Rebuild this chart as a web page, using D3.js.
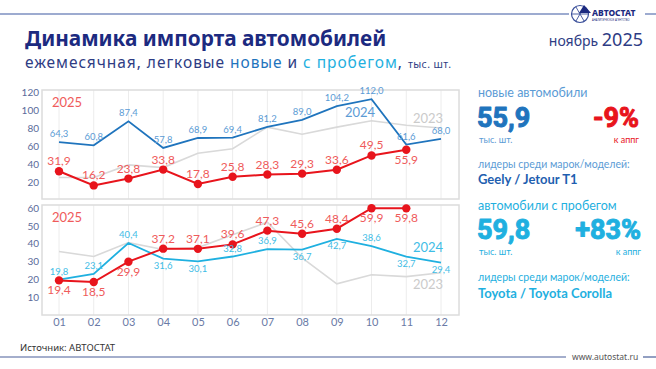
<!DOCTYPE html>
<html><head><meta charset="utf-8">
<script src="https://cdn.jsdelivr.net/npm/d3@7"></script>
<style>body{margin:0;background:#fff}svg{display:block}</style>
</head><body>
<script>
const months = ["01","02","03","04","05","06","07","08","09","10","11","12"];
const new2025 = [31.9,16.2,23.8,33.8,17.8,25.8,28.3,29.3,33.6,49.5,55.9];
const new2024 = [64.3,60.8,87.4,57.8,68.9,69.4,81.2,89.0,104.2,112.0,61.6,68.0];
const new2023 = [25,25,39,36,52,57,81,73,81,88,83,80];
const used2025 = [19.4,18.5,29.9,37.2,37.1,39.6,47.3,45.6,48.4,59.9,59.8];
const used2024 = [19.8,23.1,40.4,31.6,30.1,32.8,36.9,36.7,42.7,38.6,32.7,29.4];
const used2023 = [35.6,32.8,40.6,36.7,37.8,45,52,32,17.5,22.6,21.5,23.7];
const topTicks = [20,40,60,80,100,120];
const bottomTicks = [10,20,30,40,50,60];

const W=656,H=369;
const F="'Lato','Open Sans',sans-serif";
const svg=d3.select("body").append("svg").attr("width",W).attr("height",H);
const fmt=v=>d3.format(".1f")(v).replace(".",",");

const C={navy:"#1c2a80",blue:"#1f74bd",blueL:"#5b9bd5",cyan:"#1fb0e0",cyanL:"#3fbde6",red:"#e8141c",redL:"#ef5b5b",gray:"#d9d9d9",grayT:"#cbcbcb",axis:"#5a6a9a"};

// header
svg.append("line").attr("x1",0).attr("x2",569).attr("y1",14).attr("y2",14).attr("stroke","#7d8fc0").attr("stroke-width",1.5);
svg.append("line").attr("x1",645).attr("x2",656).attr("y1",14).attr("y2",14).attr("stroke","#7d8fc0").attr("stroke-width",1.5);
const logo=svg.append("g").attr("transform","translate(580,14)");
logo.append("circle").attr("r",8.5).attr("fill","#fff").attr("stroke","#3a4f9a").attr("stroke-width",1.2);
[0,60,120].forEach(a=>logo.append("line").attr("x1",-8.5*Math.cos(a*Math.PI/180)).attr("y1",-8.5*Math.sin(a*Math.PI/180)).attr("x2",8.5*Math.cos(a*Math.PI/180)).attr("y2",8.5*Math.sin(a*Math.PI/180)).attr("stroke","#3a4f9a").attr("stroke-width",0.9));
logo.append("path").attr("d","M4,-9 L11,-1 L-1,-1 Z").attr("fill","#1c2a80");
svg.append("text").attr("x",592).attr("y",16).attr("font-family","'Noto Sans',sans-serif").attr("font-weight",800).attr("font-size",8.5).attr("fill","#1c2a80").text("АВТОСТАТ");
svg.append("text").attr("x",592).attr("y",21).attr("font-family","'Noto Sans',sans-serif").attr("font-size",2.6).attr("fill","#1c2a80").text("АНАЛИТИЧЕСКОЕ АГЕНТСТВО");

svg.append("text").attr("x",25).attr("y",46).attr("font-family","'Noto Sans',sans-serif").attr("font-weight",700).attr("font-size",20.8).attr("fill",C.navy).text("Динамика импорта автомобилей");
const sub=svg.append("text").attr("x",25).attr("y",68).attr("font-family","'Noto Sans',sans-serif").attr("font-size",15.5).attr("letter-spacing",0.95).attr("fill","#2e3c84");
sub.append("tspan").text("ежемесячная, легковые ");
sub.append("tspan").attr("fill",C.blue).text("новые");
sub.append("tspan").text(" и ");
sub.append("tspan").attr("fill",C.cyan).text("с пробегом");
sub.append("tspan").text(", ");
sub.append("tspan").attr("font-size",10.5).attr("letter-spacing",0.4).text("тыс. шт.");
const dt=svg.append("text").attr("x",643).attr("y",46).attr("text-anchor","end").attr("font-family","'Noto Sans',sans-serif").attr("fill","#2e3c84");
dt.append("tspan").attr("font-size",14).text("ноябрь ");
dt.append("tspan").attr("font-size",18).text("2025");

// charts
const x=d3.scalePoint().domain(months).range([59,441]);
const panels=[
 {y0:90,y1:199,dom:[0,120],rng:[200,92],ticks:topTicks,s25:new2025,s24:new2024,s23:new2023,c24:C.blue,c24L:C.blueL,
  pos25:months.map((m,i)=>i===10?"below":"above"),pos24:months.map(()=>"above"),
  lab24:[345,117],lab23:[413,123],lab25:[52,107]},
 {y0:205,y1:315,dom:[0,60],rng:[315,208],ticks:bottomTicks,s25:used2025,s24:used2024,s23:used2023,c24:C.cyan,c24L:C.cyanL,
  pos25:["below","below","below","above","above","above","above","above","above","below","below"],
  pos24:["above","above","above","below","below","above","above","below","below","above","below","below"],
  lab24:[413,252],lab23:[413,289],lab25:[52,222]}
];
panels.forEach(p=>{
 const y=d3.scaleLinear().domain(p.dom).range(p.rng);
 const g=svg.append("g");
 g.append("g").selectAll("line").data(months).join("line").attr("x1",d=>x(d)).attr("x2",d=>x(d)).attr("y1",p.y0).attr("y2",p.y1).attr("stroke","#ececec").attr("stroke-width",1);
 g.append("rect").attr("x",42).attr("y",p.y0).attr("width",417).attr("height",p.y1-p.y0).attr("fill","none").attr("stroke","#dcdcdc").attr("stroke-width",1.5);
 const ax=d3.axisLeft(y).tickValues(p.ticks).tickSize(0).tickPadding(0);
 const axg=g.append("g").attr("transform","translate(39,0)").call(ax);
 axg.select(".domain").remove();
 axg.selectAll("text").attr("font-family",F).attr("font-size",10).attr("fill",C.axis);
 const line=d3.line().x((d,i)=>x(months[i])).y(d=>y(d));
 g.append("path").datum(p.s23).attr("d",line).attr("fill","none").attr("stroke",C.gray).attr("stroke-width",1.6);
 g.append("path").datum(p.s24).attr("d",line).attr("fill","none").attr("stroke",p.c24).attr("stroke-width",1.8);
 g.append("path").datum(p.s25).attr("d",line).attr("fill","none").attr("stroke",C.red).attr("stroke-width",2);
 g.append("g").selectAll("circle").data(p.s25).join("circle").attr("cx",(d,i)=>x(months[i])).attr("cy",d=>y(d)).attr("r",4.2).attr("fill",C.red);
 g.append("g").selectAll("text").data(p.s24).join("text").attr("x",(d,i)=>x(months[i])).attr("y",(d,i)=>p.pos24[i]==="above"?y(d)-5:y(d)+10.5).attr("text-anchor","middle").attr("font-family",F).attr("font-size",9.5).attr("fill",p.c24L).text(fmt);
 g.append("g").selectAll("text").data(p.s25).join("text").attr("x",(d,i)=>x(months[i])).attr("y",(d,i)=>p.pos25[i]==="above"?y(d)-6:y(d)+14).attr("text-anchor","middle").attr("font-family",F).attr("font-size",12).attr("fill",C.redL).text(fmt);
 g.append("text").attr("x",p.lab25[0]).attr("y",p.lab25[1]).attr("font-family",F).attr("font-size",13).attr("fill",C.redL).text("2025");
 g.append("text").attr("x",p.lab24[0]).attr("y",p.lab24[1]).attr("font-family",F).attr("font-size",13).attr("fill",p.c24L).text("2024");
 g.append("text").attr("x",p.lab23[0]).attr("y",p.lab23[1]).attr("font-family",F).attr("font-size",13).attr("fill",C.grayT).text("2023");
});
const xa=svg.append("g").attr("transform","translate(0,318)").call(d3.axisBottom(x).tickSize(0).tickPadding(0));
xa.select(".domain").remove();
xa.selectAll("text").attr("font-family",F).attr("font-size",11).attr("fill","#6a7aa6").attr("dy","0.71em");

// right panel
function T(xx,yy,txt,size,col,opt={}){const t=svg.append("text").attr("x",xx).attr("y",yy).attr("font-family",opt.ff||"'Noto Sans',sans-serif").attr("font-size",size).attr("fill",col).text(txt);if(opt.w)t.attr("font-weight",opt.w);if(opt.a)t.attr("text-anchor",opt.a);if(opt.s)t.attr("stroke",col).attr("stroke-width",opt.s).attr("stroke-linejoin","round");return t;}
const L={ff:F};
const R="Roboto,sans-serif";
T(478,97,"новые автомобили",12.5,C.blueL,L);
T(477,127,"55,9",27,C.blue,{w:700,ff:R,s:1});
T(479,143,"тыс. шт.",9,C.blueL,L);
T(639,127,"-9%",27,C.red,{w:700,a:"end",ff:R,s:1});
T(639,143,"к аппг",9,C.red,{a:"end",ff:F});
T(478,168,"лидеры среди марок/моделей:",10.5,C.blueL,L);
T(478,184,"Geely / Jetour T1",13,"#1f5fb0",{w:700,ff:F});
T(478,210,"автомобили с пробегом",12.5,C.cyan,L);
T(477,239,"59,8",27,C.cyan,{w:700,ff:R,s:1});
T(479,255,"тыс. шт.",9,C.cyan,L);
T(641,239,"+83%",27,C.cyan,{w:700,a:"end",ff:R,s:1});
T(641,255,"к аппг",9,C.cyan,{a:"end",ff:F});
T(478,281,"лидеры среди марок/моделей:",10.5,C.cyan,L);
T(478,298,"Toyota / Toyota Corolla",13,C.cyan,{w:700,ff:F});

// footer
T(20,351,"Источник: АВТОСТАТ",9.5,"#333");
svg.append("line").attr("x1",0).attr("x2",566).attr("y1",357).attr("y2",357).attr("stroke","#4a5f9a").attr("stroke-width",1.2);
svg.append("line").attr("x1",643).attr("x2",656).attr("y1",357).attr("y2",357).attr("stroke","#4a5f9a").attr("stroke-width",1.2);
T(572,360,"www.autostat.ru",8.5,"#555");
</script>
</body></html>
